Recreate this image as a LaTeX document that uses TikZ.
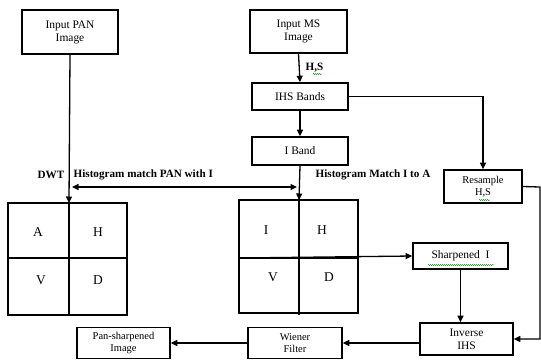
\documentclass[tikz,border=0pt]{standalone}
\usepackage{fontspec}
\setmainfont{Liberation Serif}
\usetikzlibrary{arrows.meta,decorations.pathmorphing}
\begin{document}
\begin{tikzpicture}[x=1bp,y=-1bp,
  line width=1.3bp,
  >={Triangle[length=6.5bp,width=6bp]},
  blk/.style={draw,line width=1.6bp,inner sep=0pt,align=center,font=\fontsize{11.5}{13}\selectfont},
  small/.style={font=\fontsize{10.5}{12}\selectfont},
  lbl/.style={font=\bfseries\fontsize{11.2}{12}\selectfont,inner sep=0pt},
  cell/.style={font=\fontsize{13.5}{14}\selectfont,inner sep=0pt},
  gridline/.style={line width=1.5bp},
  squig/.style={draw=green!55!black,line width=0.4bp,decorate,decoration={snake,amplitude=0.6bp,segment length=2bp}}]
\useasboundingbox (0,0) rectangle (541,360);

% top row of input boxes
\node[blk,minimum width=96bp,minimum height=44bp] (pan) at (70,32) {Input PAN\\Image};
\node[blk,minimum width=97bp,minimum height=43bp] (ms) at (298.5,31.5) {Input MS\\Image};

% IHS chain
\node[blk,minimum width=96bp,minimum height=27bp] (ihs) at (300,96.5) {IHS Bands};
\node[blk,minimum width=96bp,minimum height=28bp] (iband) at (300,151) {I Band};
\node[blk,small,minimum width=78bp,minimum height=33bp] (res) at (483,186.5) {Resample\\H,S};

% left DWT grid
\draw[gridline] (8,203) rectangle (127,315);
\coordinate (ltop) at (69,203);
\draw[gridline] (69,203) -- (69,315);
\draw[gridline] (8,258) -- (127,258);
\node[cell] (ga) at (38,232) {A};
\node[cell] (gh) at (98,232) {H};
\node[cell] (gv) at (41,280) {V};
\node[cell] (gd) at (98,280) {D};

% right grid
\draw[gridline] (239,200) rectangle (358,313);
\coordinate (rtop) at (299,200);
\coordinate (rmid) at (239,258);
\draw[gridline] (299,200) -- (299,315);
\draw[gridline] (239,258) -- (358,258);
\node[cell] (gi) at (266,230) {I};
\node[cell] (gh2) at (322,230) {H};
\node[cell] (gv2) at (273,277) {V};
\node[cell] (gd2) at (329,277) {D};

% lower boxes
\node[blk,minimum width=95bp,minimum height=26bp] (sharp) at (460.5,256) {Sharpened\ \ I};
\node[blk,minimum width=93bp,minimum height=32bp] (inv) at (466.5,339) {Inverse\\IHS};
\node[blk,small,minimum width=94bp,minimum height=31bp] (wien) at (295,343) {Wiener\\Filter};
\node[blk,small,minimum width=93bp,minimum height=31bp] (out) at (123.5,343) {Pan-sharpened\\Image};

% labels
\node[lbl,anchor=west] (ldwt) at (37,175) {DWT};
\node[lbl,anchor=west] (lhp) at (73,175) {Histogram match PAN with I};
\node[lbl,anchor=west] (lhi) at (315,175) {Histogram Match I to A};
\node[lbl,anchor=west] (lhs) at (305,68) {H,S};

% spelling marks under words
\draw[squig] (313,74) -- (322,74);
\draw[squig] (479,200) -- (490,200);
\draw[squig] (428,265) -- (494,265);

% connectors
\draw[->] (pan.south) -- (ltop);
\draw[->] (ms.south) -- (ihs.north);
\draw[->] (ihs.south) -- (iband.north);
\draw[->] (iband.south) -- (rtop);
\draw[<->] (72,187) coordinate (hl) -- (297,187) coordinate (hr);
\draw[->] (ihs.east) -| (res.north);
\draw[->] (res.east) -- (540,187) coordinate (rc) |- (inv.east);
\draw[->] (rmid) -- (sharp.west);
\draw[->] (sharp.south) -- (sharp.south |- inv.north);
\draw[->] (inv.west |- 0,343) -- (wien.east);
\draw[->] (wien.west) -- (out.east);
\end{tikzpicture}
\end{document}
